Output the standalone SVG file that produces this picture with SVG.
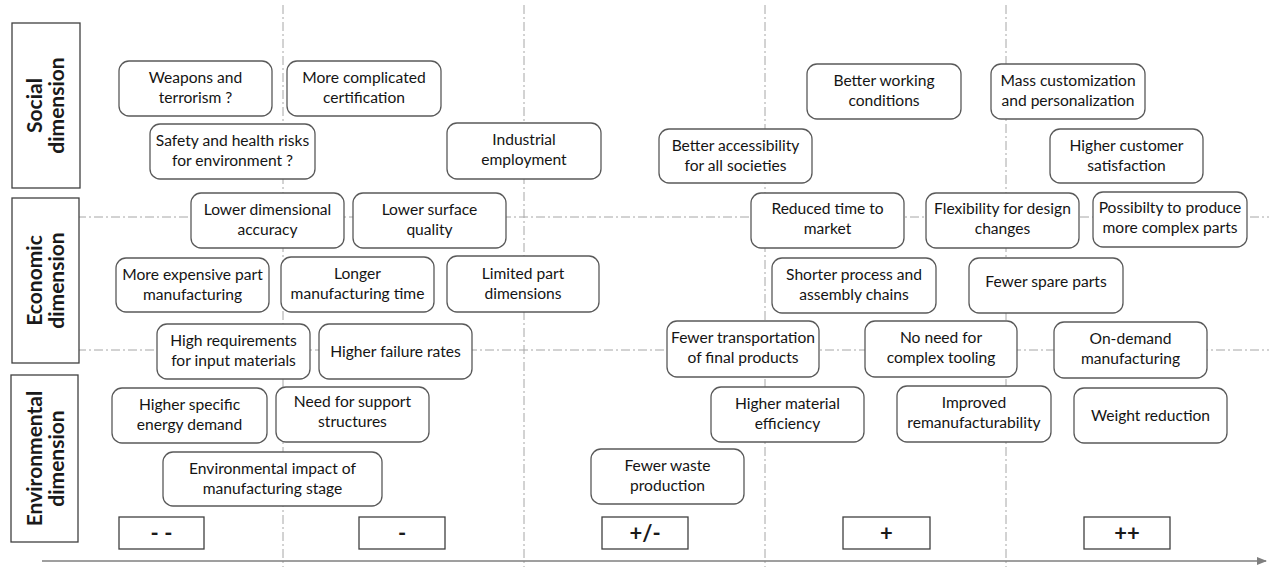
<svg xmlns="http://www.w3.org/2000/svg" width="1269" height="567" viewBox="0 0 1269 567">
<style>
.bg{fill:#fff}
.n rect{fill:#fff;stroke:#595959;stroke-width:1.3}
.n text{font-family:Lato,"Liberation Sans",sans-serif;font-size:15.6px;fill:#141414;text-anchor:middle}
.dim rect{fill:#fff;stroke:#404040;stroke-width:1.3}
.dim text{font-family:Lato,"Liberation Sans",sans-serif;font-size:21px;font-weight:bold;fill:#1a1a1a;text-anchor:middle}
.sc rect{fill:#fff;stroke:#404040;stroke-width:1.3}
.sc text{font-family:Lato,"Liberation Sans",sans-serif;font-size:22px;font-weight:bold;fill:#1a1a1a;text-anchor:middle}
.grid{stroke:#a6a6a6;stroke-width:1;stroke-dasharray:9 3 2 3;fill:none}
.axis{stroke:#7f7f7f;stroke-width:1.6;fill:none}
</style>
<defs>
<marker id="ah" markerWidth="10" markerHeight="8" refX="9" refY="4" orient="auto" markerUnits="userSpaceOnUse">
<path d="M0,0 L10,4 L0,8 Z" fill="#7f7f7f"/>
</marker>
</defs>
<rect class="bg" x="0" y="0" width="1269" height="567"/>
<g id="connectors">
<line class="grid" x1="283" y1="5" x2="283" y2="567"/>
<line class="grid" x1="524" y1="5" x2="524" y2="567"/>
<line class="grid" x1="765" y1="5" x2="765" y2="567"/>
<line class="grid" x1="1006" y1="5" x2="1006" y2="567"/>
<line class="grid" x1="43" y1="217" x2="1269" y2="217"/>
<line class="grid" x1="43" y1="350" x2="1269" y2="350"/>
<line class="axis" x1="42" y1="561" x2="1266" y2="561" marker-end="url(#ah)"/>
</g>
<g id="dim-social" class="dim">
<rect x="12" y="23" width="68" height="165"/>
<text transform="translate(42,105.5) rotate(-90)">Social</text>
<text transform="translate(64,105.5) rotate(-90)">dimension</text>
</g>
<g id="dim-economic" class="dim">
<rect x="12" y="198" width="67" height="165"/>
<text transform="translate(42,280.5) rotate(-90)">Economic</text>
<text transform="translate(64,280.5) rotate(-90)">dimension</text>
</g>
<g id="dim-environmental" class="dim">
<rect x="11" y="375" width="67" height="167"/>
<text transform="translate(42,458.5) rotate(-90)">Environmental</text>
<text transform="translate(64,458.5) rotate(-90)">dimension</text>
</g>
<g id="n-weapons" class="n"><rect x="119" y="61" width="153" height="55" rx="10"/><text x="195.5" y="83">Weapons and</text><text x="195.5" y="103">terrorism ?</text></g>
<g id="n-certification" class="n"><rect x="287" y="61" width="154" height="55" rx="10"/><text x="364" y="83">More complicated</text><text x="364" y="103">certification</text></g>
<g id="n-safety" class="n"><rect x="150" y="124" width="165" height="55" rx="10"/><text x="232.5" y="146">Safety and health risks</text><text x="232.5" y="166">for environment ?</text></g>
<g id="n-employment" class="n"><rect x="447" y="123" width="154" height="56" rx="10"/><text x="524" y="145">Industrial</text><text x="524" y="165">employment</text></g>
<g id="n-accessibility" class="n"><rect x="659" y="129" width="153" height="54" rx="10"/><text x="735.5" y="150.5">Better accessibility</text><text x="735.5" y="170.5">for all societies</text></g>
<g id="n-working" class="n"><rect x="807" y="64" width="154" height="55" rx="10"/><text x="884" y="86">Better working</text><text x="884" y="106">conditions</text></g>
<g id="n-mass" class="n"><rect x="991" y="64" width="154" height="55" rx="10"/><text x="1068" y="86">Mass customization</text><text x="1068" y="106">and personalization</text></g>
<g id="n-satisfaction" class="n"><rect x="1050" y="129" width="153" height="54" rx="10"/><text x="1126.5" y="150.5">Higher customer</text><text x="1126.5" y="170.5">satisfaction</text></g>
<g id="n-accuracy" class="n"><rect x="191" y="193" width="153" height="55" rx="10"/><text x="267.5" y="215">Lower dimensional</text><text x="267.5" y="235">accuracy</text></g>
<g id="n-surface" class="n"><rect x="353" y="193" width="153" height="55" rx="10"/><text x="429.5" y="215">Lower surface</text><text x="429.5" y="235">quality</text></g>
<g id="n-expensive" class="n"><rect x="116" y="258" width="153" height="54" rx="10"/><text x="192.5" y="279.5">More expensive part</text><text x="192.5" y="299.5">manufacturing</text></g>
<g id="n-longer" class="n"><rect x="281" y="257" width="153" height="55" rx="10"/><text x="357.5" y="279">Longer</text><text x="357.5" y="299">manufacturing time</text></g>
<g id="n-limited" class="n"><rect x="447" y="256" width="152" height="56" rx="10"/><text x="523" y="278.5">Limited part</text><text x="523" y="298.5">dimensions</text></g>
<g id="n-requirements" class="n"><rect x="157" y="324" width="153" height="55" rx="10"/><text x="233.5" y="346">High requirements</text><text x="233.5" y="366">for input materials</text></g>
<g id="n-failure" class="n"><rect x="319" y="324" width="153" height="55" rx="10"/><text x="395.5" y="357">Higher failure rates</text></g>
<g id="n-market" class="n"><rect x="751" y="193" width="153" height="55" rx="10"/><text x="827.5" y="214">Reduced time to</text><text x="827.5" y="234">market</text></g>
<g id="n-shorter" class="n"><rect x="772" y="258" width="164" height="55" rx="10"/><text x="854" y="280">Shorter process and</text><text x="854" y="300">assembly chains</text></g>
<g id="n-transport" class="n"><rect x="667" y="321" width="152" height="56" rx="10"/><text x="743" y="343">Fewer transportation</text><text x="743" y="363">of final products</text></g>
<g id="n-tooling" class="n"><rect x="865" y="321" width="152" height="56" rx="10"/><text x="941" y="343">No need for</text><text x="941" y="363">complex tooling</text></g>
<g id="n-flexibility" class="n"><rect x="926" y="193" width="153" height="55" rx="10"/><text x="1002.5" y="214">Flexibility for design</text><text x="1002.5" y="234">changes</text></g>
<g id="n-complex" class="n"><rect x="1093" y="192" width="154" height="55" rx="10"/><text x="1170" y="213">Possibilty to produce</text><text x="1170" y="233">more complex parts</text></g>
<g id="n-spare" class="n"><rect x="969" y="258" width="154" height="55" rx="10"/><text x="1046" y="287">Fewer spare parts</text></g>
<g id="n-ondemand" class="n"><rect x="1054" y="322" width="153" height="56" rx="10"/><text x="1130.5" y="344">On-demand</text><text x="1130.5" y="364">manufacturing</text></g>
<g id="n-energy" class="n"><rect x="112" y="388" width="155" height="55" rx="10"/><text x="189.5" y="410">Higher specific</text><text x="189.5" y="430">energy demand</text></g>
<g id="n-support" class="n"><rect x="276" y="387" width="153" height="55" rx="10"/><text x="352.5" y="407">Need for support</text><text x="352.5" y="427">structures</text></g>
<g id="n-impact" class="n"><rect x="163" y="452" width="219" height="54" rx="10"/><text x="272.5" y="473.5">Environmental impact of</text><text x="272.5" y="493.5">manufacturing stage</text></g>
<g id="n-efficiency" class="n"><rect x="711" y="387" width="153" height="55" rx="10"/><text x="787.5" y="409">Higher material</text><text x="787.5" y="429">efficiency</text></g>
<g id="n-waste" class="n"><rect x="591" y="449" width="153" height="55" rx="10"/><text x="667.5" y="471">Fewer waste</text><text x="667.5" y="491">production</text></g>
<g id="n-reman" class="n"><rect x="897" y="386" width="154" height="56" rx="10"/><text x="974" y="408">Improved</text><text x="974" y="428">remanufacturability</text></g>
<g id="n-weight" class="n"><rect x="1074" y="388" width="153" height="55" rx="10"/><text x="1150.5" y="421">Weight reduction</text></g>
<g id="s-mm" class="sc"><rect x="119" y="517" width="85" height="32"/><text x="161.5" y="541">- -</text></g>
<g id="s-m" class="sc"><rect x="359" y="517" width="86" height="32"/><text x="402" y="541">-</text></g>
<g id="s-pm" class="sc"><rect x="602" y="517" width="86" height="32"/><text x="645" y="541">+/-</text></g>
<g id="s-p" class="sc"><rect x="843" y="517" width="87" height="32"/><text x="886.5" y="541">+</text></g>
<g id="s-pp" class="sc"><rect x="1084" y="517" width="86" height="32"/><text x="1127" y="541">++</text></g>
</svg>
